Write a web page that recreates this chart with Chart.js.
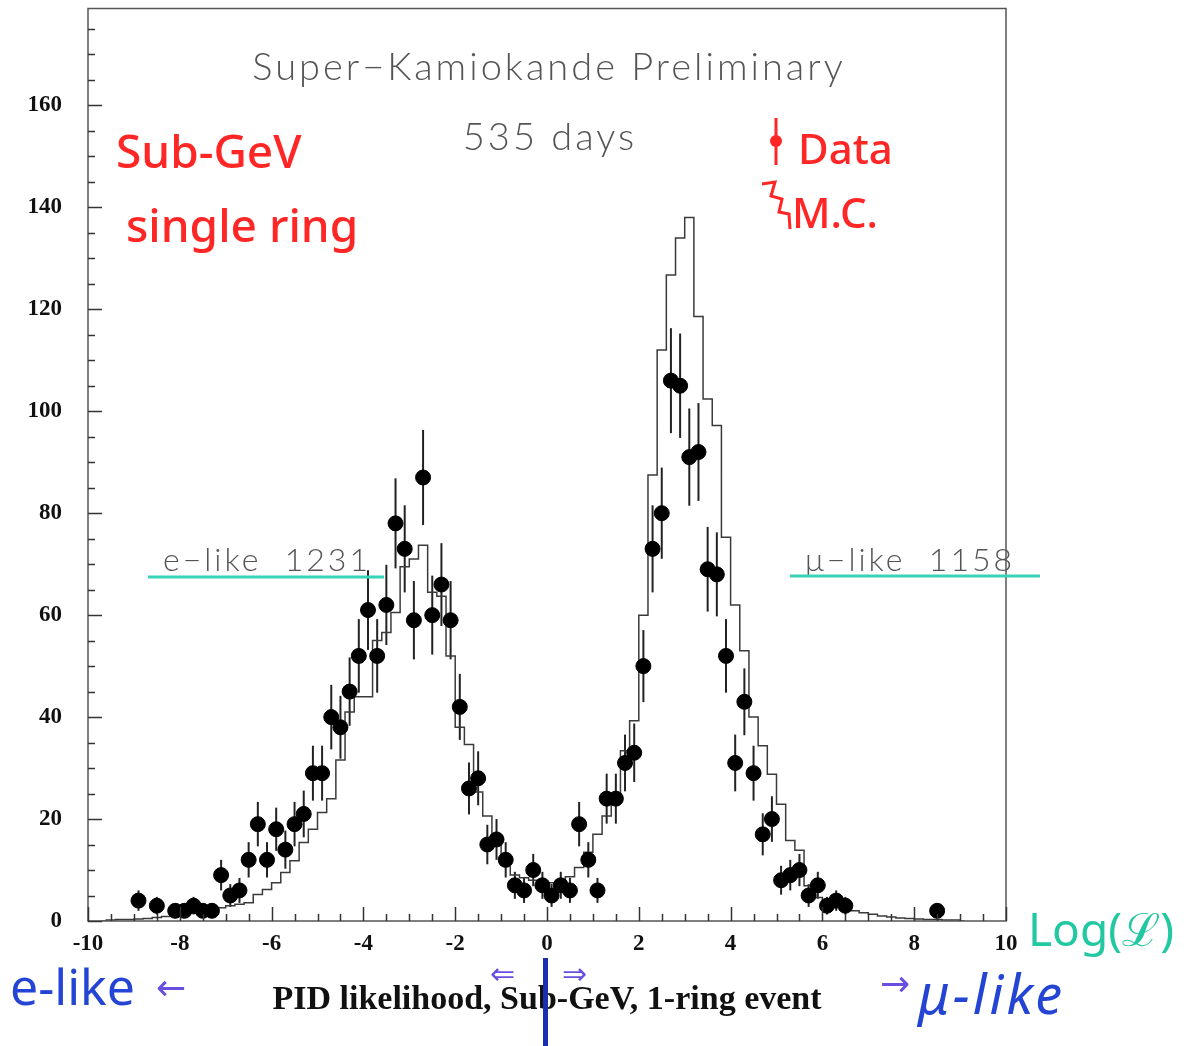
<!DOCTYPE html>
<html>
<head>
<meta charset="utf-8">
<script src="https://cdn.jsdelivr.net/npm/chart.js@4.4.1/dist/chart.umd.min.js"></script>
<style>
  html, body { margin: 0; padding: 0; background: #fff; }
  #wrap { width: 1190px; height: 1046px; }
</style>
</head>
<body>
<div id="wrap"><canvas id="pid" width="1190" height="1046"></canvas></div>
<script>
// data: events per 0.2 bin of log-likelihood
const dataX = [-8.9, -8.5, -8.1, -7.9, -7.7, -7.5, -7.3, -7.1, -6.9, -6.7, -6.5, -6.3, -6.1, -5.9, -5.7, -5.5, -5.3, -5.1, -4.9, -4.7,
  -4.5, -4.3, -4.1, -3.9, -3.7, -3.5, -3.3, -3.1, -2.9, -2.7, -2.5, -2.3, -2.1, -1.9, -1.7, -1.5, -1.3, -1.1, -0.9, -0.7,
  -0.5, -0.3, -0.1, 0.1, 0.3, 0.5, 0.7, 0.9, 1.1, 1.3, 1.5, 1.7, 1.9, 2.1, 2.3, 2.5, 2.7, 2.9, 3.1, 3.3,
  3.5, 3.7, 3.9, 4.1, 4.3, 4.5, 4.7, 4.9, 5.1, 5.3, 5.5, 5.7, 5.9, 6.1, 6.3, 6.5, 8.5];
const dataN = [4, 3, 2, 2, 3, 2, 2, 9, 5, 6, 12, 19, 12, 18, 14, 19, 21, 29, 29, 40,
  38, 45, 52, 61, 52, 62, 78, 73, 59, 87, 60, 66, 59, 42, 26, 28, 15, 16, 12, 7,
  6, 10, 7, 5, 7, 6, 19, 12, 6, 24, 24, 31, 33, 50, 73, 80, 106, 105, 91, 92,
  69, 68, 52, 31, 43, 29, 17, 20, 8, 9, 10, 5, 7, 3, 4, 3, 2];

// Monte Carlo expectation, same binning
const mcX = [-9.7, -9.5, -9.3, -9.1, -8.9, -8.7, -8.5, -8.3, -8.1, -7.9, -7.7, -7.5, -7.3, -7.1, -6.9, -6.7, -6.5, -6.3, -6.1, -5.9,
  -5.7, -5.5, -5.3, -5.1, -4.9, -4.7, -4.5, -4.3, -4.1, -3.9, -3.7, -3.5, -3.3, -3.1, -2.9, -2.7, -2.5, -2.3, -2.1, -1.9,
  -1.7, -1.5, -1.3, -1.1, -0.9, -0.7, -0.5, -0.3, -0.1, 0.1, 0.3, 0.5, 0.7, 0.9, 1.1, 1.3, 1.5, 1.7, 1.9, 2.1,
  2.3, 2.5, 2.7, 2.9, 3.1, 3.3, 3.5, 3.7, 3.9, 4.1, 4.3, 4.5, 4.7, 4.9, 5.1, 5.3, 5.5, 5.7, 5.9, 6.1,
  6.3, 6.5, 6.7, 6.9, 7.1, 7.3, 7.5, 7.7, 7.9, 8.1, 8.3, 8.5, 8.7, 8.9, 9.1];
const mcN = [0, 0.2, 0.3, 0.3, 0.4, 0.5, 0.7, 0.9, 1.1, 1.3, 1.5, 1.8, 2.1, 2.6, 3.0, 3.3, 3.6, 5.2, 6.2, 7.5,
  9.5, 11.8, 15.4, 18.0, 21.3, 24.0, 31.6, 41.0, 44.0, 44.0, 55.0, 56.6, 60.5, 69.5, 71.0, 73.7, 64.5, 63.7, 52.0, 38.0,
  34.6, 25.3, 20.6, 15.7, 11.0, 9.0, 8.5, 8.0, 7.5, 7.5, 8.0, 8.7, 10.5, 13.5, 17.0, 20.6, 23.6, 33.4, 39.3, 60.0,
  87.5, 112.0, 126.7, 134.0, 138.0, 118.6, 102.4, 97.2, 75.3, 62.0, 53.0, 40.0, 34.4, 28.8, 22.9, 15.8, 13.9, 6.9, 4.6, 3.8,
  3.0, 2.4, 2.0, 1.6, 1.3, 1.0, 0.8, 0.6, 0.5, 0.4, 0.3, 0.3, 0.2, 0.2, 0];

const xTicks = [-10, -8, -6, -4, -2, 0, 2, 4, 6, 8, 10];
const yTicks = [0, 20, 40, 60, 80, 100, 120, 140, 160];

const serif = "'Liberation Serif', 'Times New Roman', serif";
const thin = "Lato, 'Noto Sans', sans-serif";
const hand = "'Noto Sans', 'DejaVu Sans', sans-serif";

// sqrt(N) error bars under the data points
const errorBars = {
  id: 'errorBars',
  beforeDatasetsDraw(chart) {
    const { ctx, scales: { x, y } } = chart;
    ctx.save();
    ctx.strokeStyle = '#222';
    ctx.lineWidth = 2;
    dataX.forEach((v, i) => {
      const n = dataN[i], e = Math.sqrt(n);
      const px = x.getPixelForValue(v);
      ctx.beginPath();
      ctx.moveTo(px, y.getPixelForValue(Math.max(0, n - e)));
      ctx.lineTo(px, y.getPixelForValue(n + e));
      ctx.stroke();
    });
    ctx.restore();
  }
};

// box around the plot and inward tick marks
const frame = {
  id: 'frame',
  afterDraw(chart) {
    const { ctx, chartArea: a, scales: { x, y } } = chart;
    ctx.save();
    ctx.strokeStyle = '#555';
    ctx.lineWidth = 1.5;
    ctx.strokeRect(a.left, a.top, a.right - a.left, a.bottom - a.top);
    ctx.strokeStyle = '#333';
    for (let v = 0; v <= y.max; v += 5) {
      const py = Math.round(y.getPixelForValue(v)) + 0.5;
      const len = v % 20 === 0 ? 14 : 7;
      ctx.beginPath(); ctx.moveTo(a.left, py); ctx.lineTo(a.left + len, py); ctx.stroke();
    }
    for (let v = x.min; v <= x.max; v += 0.5) {
      const px = Math.round(x.getPixelForValue(v)) + 0.5;
      const len = Math.abs(v % 2) < 1e-9 ? 14 : 7;
      ctx.beginPath(); ctx.moveTo(px, a.bottom); ctx.lineTo(px, a.bottom - len); ctx.stroke();
    }
    ctx.restore();
  }
};

// printed captions and the hand-written notes
const notes = {
  id: 'notes',
  afterDraw(chart) {
    const { ctx } = chart;
    ctx.save();
    ctx.textBaseline = 'alphabetic';

    ctx.fillStyle = '#555';
    ctx.textAlign = 'center';
    ctx.font = `300 38px ${thin}`;
    ctx.letterSpacing = '3px';
    ctx.fillText('Super\u2212Kamiokande Preliminary', 549, 80);
    ctx.fillText('535 days', 550, 150);
    ctx.textAlign = 'left';
    ctx.font = `300 32px ${thin}`;
    ctx.fillText('e\u2212like  1231', 163, 571);
    ctx.fillText('\u03bc\u2212like  1158', 805, 571);
    ctx.letterSpacing = '0px';

    ctx.strokeStyle = '#38d4b8';
    ctx.lineWidth = 3;
    ctx.beginPath(); ctx.moveTo(148, 577); ctx.lineTo(384, 577); ctx.stroke();
    ctx.beginPath(); ctx.moveTo(790, 576); ctx.lineTo(1040, 576); ctx.stroke();

    ctx.fillStyle = '#ff2626';
    ctx.strokeStyle = '#ff2626';
    ctx.font = `500 46px ${hand}`;
    ctx.fillText('Sub-GeV', 116, 168);
    ctx.fillText('single ring', 126, 242);
    ctx.font = `500 42px ${hand}`;
    ctx.fillText('Data', 798, 164);
    ctx.fillText('M.C.', 792, 228);
    ctx.lineWidth = 3;
    ctx.beginPath(); ctx.moveTo(776, 118); ctx.lineTo(776, 165); ctx.stroke();
    ctx.beginPath(); ctx.arc(776, 141, 6, 0, Math.PI * 2); ctx.fill();
    ctx.beginPath();
    ctx.moveTo(762, 184); ctx.lineTo(775, 182); ctx.lineTo(771, 196); ctx.lineTo(782, 199);
    ctx.lineTo(779, 212); ctx.lineTo(789, 214); ctx.lineTo(790, 229);
    ctx.stroke();

    ctx.fillStyle = '#2444d4';
    ctx.font = `50px ${hand}`;
    ctx.fillText('e-like', 10, 1005);
    ctx.font = `italic 54px ${hand}`;
    ctx.letterSpacing = '3px';
    ctx.fillText('\u03bc-like', 918, 1014);
    ctx.letterSpacing = '0px';
    ctx.fillStyle = '#6a4ee0';
    ctx.font = `36px ${hand}`;
    ctx.fillText('\u2190', 156, 1000);
    ctx.fillText('\u2192', 880, 996);
    ctx.font = `30px ${hand}`;
    ctx.fillText('\u21d0', 490, 984);
    ctx.fillText('\u21d2', 562, 984);
    ctx.fillStyle = '#1a2fb0';
    ctx.fillRect(543, 958, 5, 88);

    ctx.fillStyle = '#22c8a2';
    ctx.font = `46px ${hand}`;
    ctx.fillText('Log(\u2112)', 1028, 946);
    ctx.restore();
  }
};

new Chart(document.getElementById('pid'), {
  data: {
    datasets: [
      {
        type: 'scatter',
        label: 'Data',
        data: dataX.map((v, i) => ({ x: v, y: dataN[i] })),
        backgroundColor: '#000',
        borderColor: '#000',
        pointRadius: 7.5,
        order: 0
      },
      {
        type: 'line',
        label: 'M.C.',
        data: mcX.map((v, i) => ({ x: v, y: mcN[i] })),
        stepped: 'middle',
        borderColor: '#3a3a3a',
        borderWidth: 1.5,
        pointRadius: 0,
        fill: false,
        order: 1
      }
    ]
  },
  options: {
    responsive: false,
    animation: false,
    devicePixelRatio: 1,
    layout: { padding: { left: 0, right: 184, top: 8, bottom: 0 } },
    plugins: { legend: { display: false }, tooltip: { enabled: false } },
    scales: {
      x: {
        type: 'linear',
        min: -10,
        max: 10,
        grid: { display: false, drawTicks: false },
        border: { display: false },
        afterBuildTicks: s => { s.ticks = xTicks.map(v => ({ value: v })); },
        afterFit: s => { s.height = 125; },
        ticks: { color: '#111', padding: 9, font: { family: serif, size: 23, weight: 'bold' }, maxRotation: 0 },
        title: {
          display: true,
          text: 'PID likelihood, Sub-GeV, 1-ring event',
          color: '#111',
          font: { family: serif, size: 34, weight: 'bold' },
          padding: { bottom: 25 }
        }
      },
      y: {
        type: 'linear',
        min: 0,
        max: 179,
        grid: { display: false, drawTicks: false },
        border: { display: false },
        afterBuildTicks: s => { s.ticks = yTicks.map(v => ({ value: v })); },
        afterFit: s => { s.width = 88; s.paddingTop = 0; },
        ticks: { color: '#111', padding: 26, font: { family: serif, size: 23, weight: 'bold' } }
      }
    }
  },
  plugins: [errorBars, frame, notes]
});
</script>
</body>
</html>
